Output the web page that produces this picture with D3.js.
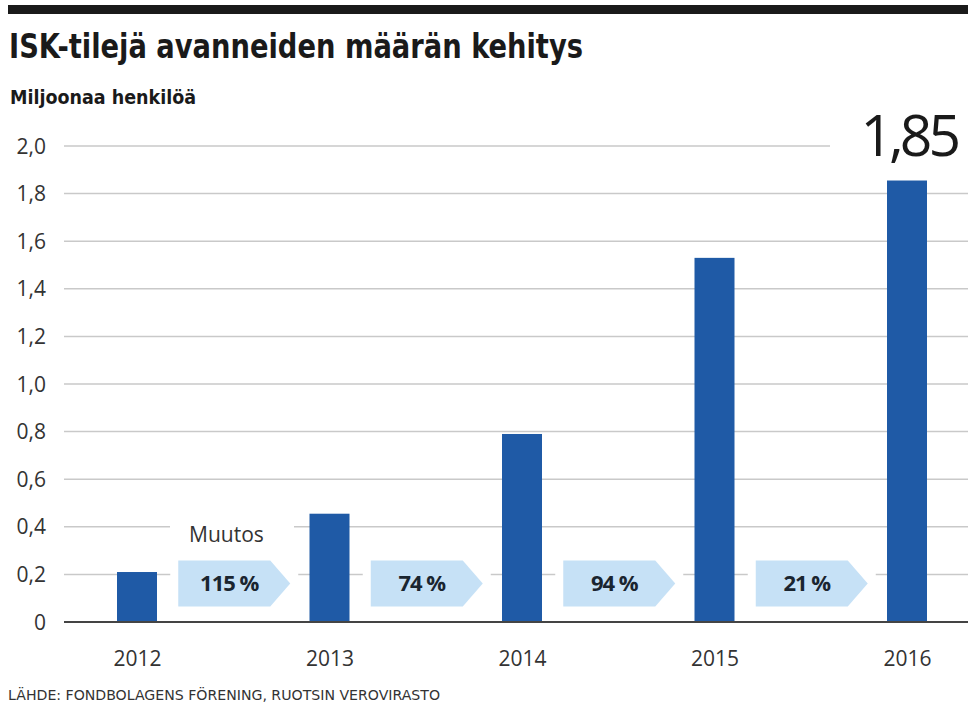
<!DOCTYPE html>
<html>
<head>
<meta charset="utf-8">
<script src="https://cdn.jsdelivr.net/npm/d3@7"></script>
<style>
  body { margin: 0; background: #fff; }
  svg { display: block; }
</style>
</head>
<body>
<svg id="chart" width="968" height="709"></svg>
<script>
// data
var vuodet = ["2012", "2013", "2014", "2015", "2016"];
var arvot = [0.21, 0.455, 0.79, 1.53, 1.855];
var muutokset = ["115 %", "74 %", "94 %", "21 %"];
var yTicks = [0, 0.2, 0.4, 0.6, 0.8, 1.0, 1.2, 1.4, 1.6, 1.8, 2.0];

const width = 968;
const height = 709;
const fontMain = "'Open Sans', 'DejaVu Sans', sans-serif";

var svg = d3.select("#chart");

// top black band
svg.append("rect")
    .attr("x", 8).attr("y", 5)
    .attr("width", width - 8).attr("height", 9)
    .attr("fill", "#1a1a1a");

svg.append("text")
    .attr("x", 9).attr("y", 58)
    .attr("font-family", "'DejaVu Sans Condensed', sans-serif")
    .attr("font-weight", "bold")
    .attr("font-size", 33)
    .attr("fill", "#1a1a1a")
    .attr("textLength", 574)
    .attr("lengthAdjust", "spacingAndGlyphs")
    .text("ISK-tilejä avanneiden määrän kehitys");

svg.append("text")
    .attr("x", 10).attr("y", 104)
    .attr("font-family", "'DejaVu Sans Condensed', sans-serif")
    .attr("font-weight", "bold")
    .attr("font-size", 20)
    .attr("fill", "#1a1a1a")
    .attr("textLength", 186)
    .attr("lengthAdjust", "spacingAndGlyphs")
    .text("Miljoonaa henkilöä");

var y = d3.scaleLinear().domain([0, 2]).range([622, 146]);
var x = d3.scalePoint().domain(vuodet).range([137, 907]);

// grid
var grid = svg.append("g");
grid.selectAll("line")
  .data(yTicks.filter(d => d > 0))
  .join("line")
    .attr("x1", 64).attr("x2", width)
    .attr("y1", d => y(d)).attr("y2", d => y(d))
    .attr("stroke", "#c9c9c9")
    .attr("stroke-width", 1.5);

// y labels
svg.append("g")
    .attr("font-family", fontMain)
    .attr("font-size", 21)
    .attr("fill", "#333")
    .attr("text-anchor", "end")
  .selectAll("text")
  .data(yTicks)
  .join("text")
    .attr("x", 46)
    .attr("y", d => y(d))
    .attr("dy", "0.36em")
    .text(d => d === 0 ? "0" : d3.format(".1f")(d).replace(".", ","));

// white knockouts for labels
svg.append("rect")
    .attr("x", 170).attr("y", y(0.4) - 14)
    .attr("width", 124).attr("height", 28)
    .attr("fill", "#fff");
svg.append("text")
    .attr("x", 189).attr("y", y(0.4) + 8)
    .attr("dy", "0.36em")
    .attr("font-family", fontMain)
    .attr("font-size", 21)
    .attr("fill", "#333")
    .text("Muutos");

svg.append("rect")
    .attr("x", 830).attr("y", y(2) - 30)
    .attr("width", 138).attr("height", 50)
    .attr("fill", "#fff");
svg.append("text")
    .attr("x", 957).attr("y", 156)
    .attr("text-anchor", "end")
    .attr("font-family", fontMain)
    .attr("font-size", 57)
    .attr("letter-spacing", -4)
    .attr("fill", "#1a1a1a")
    .text("1,85");

// change arrows
var arrowW = 112, arrowH = 46, tip = 20;
var arrows = svg.append("g")
  .selectAll("g")
  .data(muutokset)
  .join("g")
    .attr("transform", (d, i) => {
      var cx = (x(vuodet[i]) + x(vuodet[i + 1])) / 2;
      return `translate(${cx - arrowW / 2 + 1},${y(0.2) - arrowH / 2 + 9})`;
    });

arrows.append("rect")
    .attr("x", -8).attr("y", -4)
    .attr("width", arrowW + 16).attr("height", arrowH + 8)
    .attr("fill", "#fff");

arrows.append("path")
    .attr("d", `M0,0H${arrowW - tip}L${arrowW},${arrowH / 2}L${arrowW - tip},${arrowH}H0Z`)
    .attr("fill", "#c6e1f6");

arrows.append("text")
    .attr("x", (arrowW - tip) / 2 + 5)
    .attr("y", arrowH / 2)
    .attr("dy", "0.36em")
    .attr("text-anchor", "middle")
    .attr("font-family", fontMain)
    .attr("font-weight", "bold")
    .attr("font-size", 22)
    .attr("letter-spacing", -1)
    .attr("fill", "#1a2530")
    .text(d => d);

// bars
var barW = 40;
svg.append("g")
  .selectAll("rect")
  .data(arvot)
  .join("rect")
    .attr("x", (d, i) => x(vuodet[i]) - barW / 2)
    .attr("y", d => y(d))
    .attr("width", barW)
    .attr("height", d => y(0) - y(d))
    .attr("fill", "#1f5aa6");

// baseline
svg.append("line")
    .attr("x1", 64).attr("x2", width)
    .attr("y1", y(0)).attr("y2", y(0))
    .attr("stroke", "#444")
    .attr("stroke-width", 2);

// x labels
var xAxis = d3.axisBottom(x).tickSize(0).tickPadding(0);
var gx = svg.append("g")
    .attr("transform", `translate(0,${y(0) + 29})`)
    .call(xAxis);
gx.select(".domain").remove();
gx.selectAll("text")
    .attr("font-family", fontMain)
    .attr("font-size", 21)
    .attr("fill", "#333");

svg.append("text")
    .attr("x", 8).attr("y", 700)
    .attr("font-family", "'DejaVu Sans Condensed', sans-serif")
    .attr("font-size", 14)
    .attr("fill", "#333")
    .attr("textLength", 432)
    .attr("lengthAdjust", "spacingAndGlyphs")
    .text("LÄHDE: FONDBOLAGENS FÖRENING, RUOTSIN VEROVIRASTO");
</script>
</body>
</html>
